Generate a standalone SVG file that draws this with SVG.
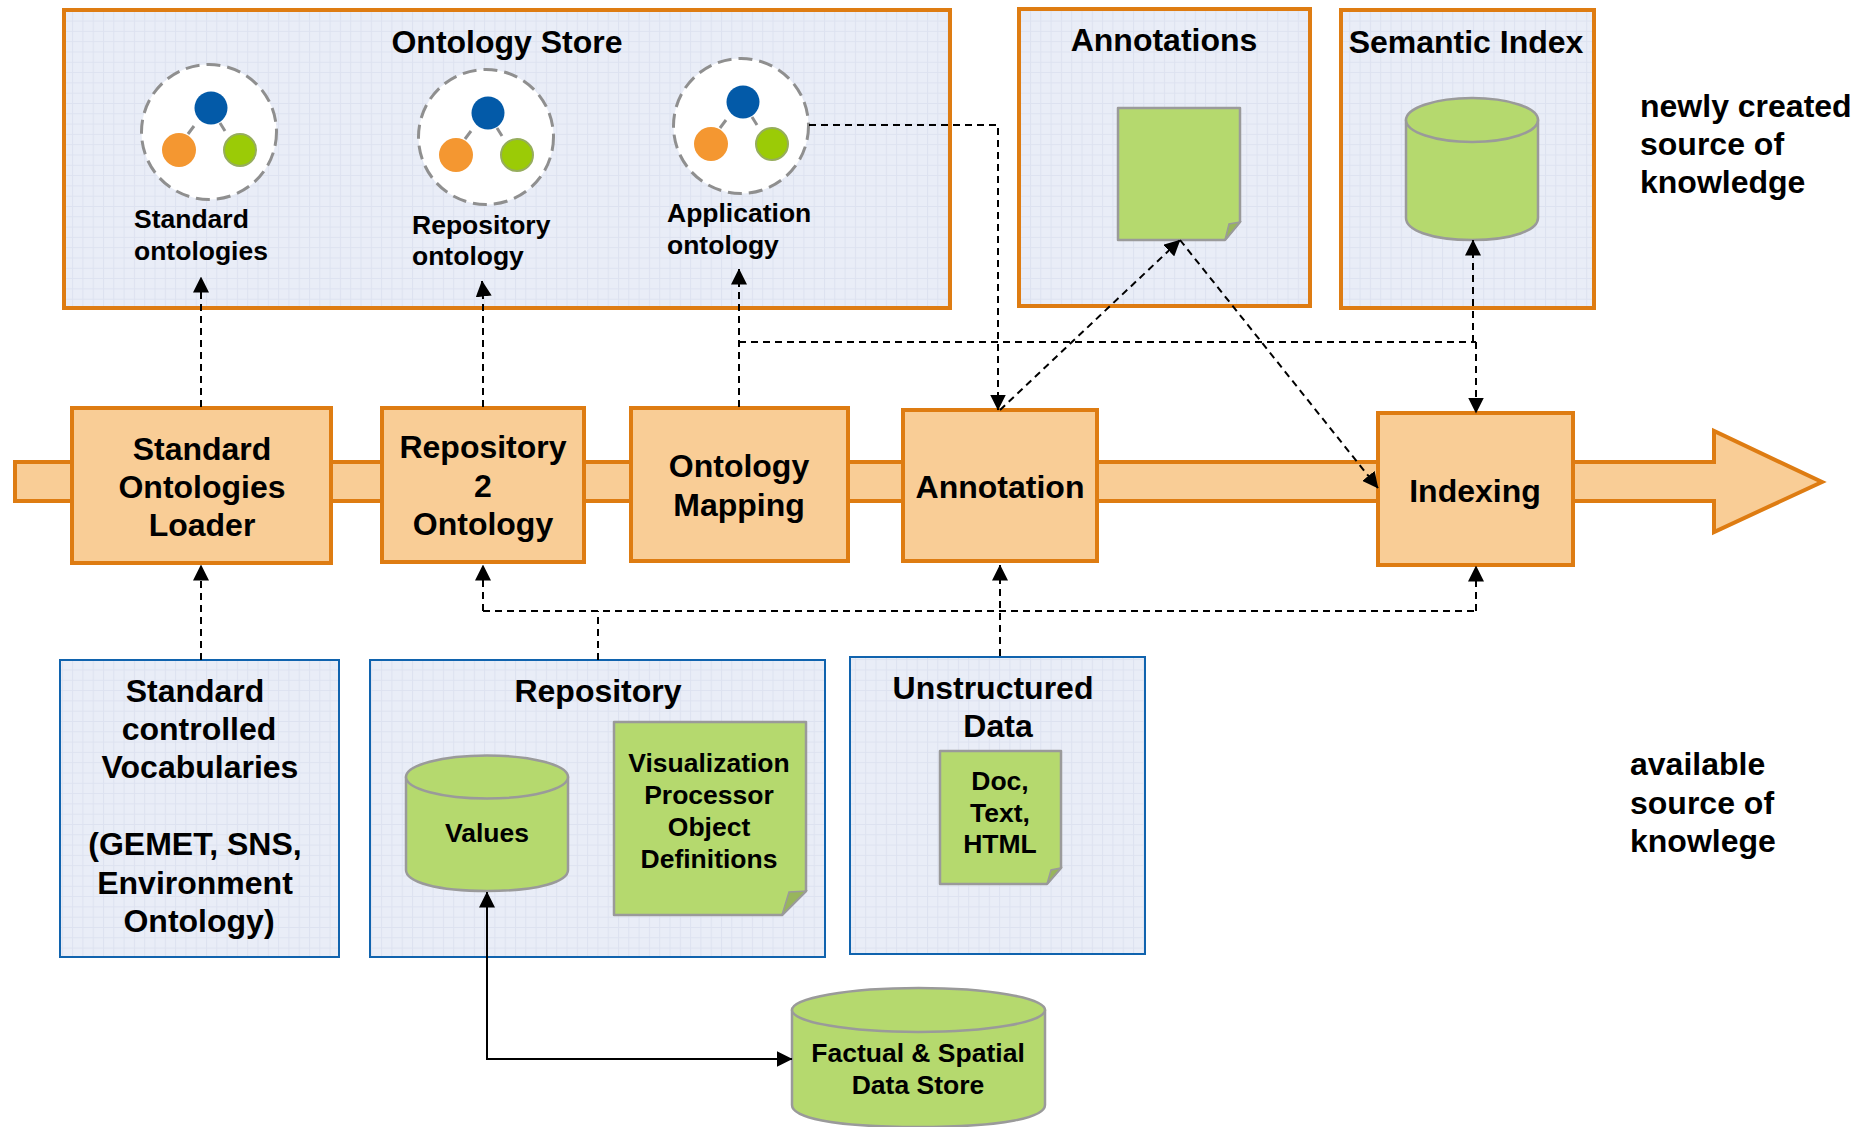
<svg xmlns="http://www.w3.org/2000/svg" width="1872" height="1127" viewBox="0 0 1872 1127">
<style>
text{font-family:"Liberation Sans",Arial,sans-serif;font-weight:bold;fill:#000;text-anchor:middle}
.s{text-anchor:start}
.f32{font-size:32px}.f27{font-size:26.5px}
.store{fill:url(#grid);stroke:#de7c12;stroke-width:4}
.src{fill:url(#grid);stroke:#1063ae;stroke-width:2}
.step{fill:#f9cd96;stroke:#de7c12;stroke-width:4}
.g{fill:#b5d96e;stroke:#9a9a9a;stroke-width:2.5;stroke-linejoin:round}
.fold{fill:#98b55c;stroke:#9a9a9a;stroke-width:1.5}
.ring{fill:#fff;stroke:#8f8f8f;stroke-width:3;stroke-dasharray:14 7}
.lnk{stroke:#8f8f8f;stroke-width:3}
.d{fill:none;stroke:#000;stroke-width:2;stroke-dasharray:7 5}
.l{fill:none;stroke:#000;stroke-width:2}
</style>
<defs>
<pattern id="grid" width="10.3" height="10.3" patternUnits="userSpaceOnUse">
<rect width="10.3" height="10.3" fill="#e9edf7"/>
<path d="M0 .5H10.3M.5 0V10.3" stroke="#dde2f0" stroke-width="1" fill="none"/>
</pattern>
<marker id="a" viewBox="0 0 16 16" refX="15.5" refY="8" markerWidth="16" markerHeight="16" markerUnits="userSpaceOnUse" orient="auto-start-reverse"><path d="M0 0L16 8L0 16Z" fill="#000"/></marker>
<g id="onto">
<circle class="ring" r="67.500"/>
<path class="lnk" d="M-15 -6L-21 2M11 -9L16 -1"/>
<circle cx="2" cy="-24" r="16.500" fill="#035aa8"/>
<circle cx="-30" cy="18" r="17" fill="#f49731"/>
<circle cx="31" cy="18" r="16" fill="#9bcb06" stroke="#96ad5c" stroke-width="2"/>
</g>
</defs>
<rect width="1872" height="1127" fill="#fff"/>
<g id="pipeline"><path class="step" d="M15 462H1714V431L1822 482L1714 532V501H15Z"/></g>
<g id="ontology-store">
<rect class="store" x="64" y="10" width="886" height="298"/>
<text class="f32" x="507" y="53">Ontology Store</text>
<use href="#onto" x="209" y="132"/>
<use href="#onto" x="486" y="137"/>
<use href="#onto" x="741" y="126"/>
<text class="f27 s" x="134" y="228">Standard</text><text class="f27 s" x="134" y="260">ontologies</text>
<text class="f27 s" x="412" y="234">Repository</text><text class="f27 s" x="412" y="265">ontology</text>
<text class="f27 s" x="667" y="222">Application</text><text class="f27 s" x="667" y="254">ontology</text>
</g>
<g id="annotations">
<rect class="store" x="1019" y="9" width="291" height="297"/>
<text class="f32" x="1164" y="51">Annotations</text>
<path class="g" d="M1118 108H1240V222L1225 240H1118Z"/>
<path class="fold" d="M1225 240L1229 224L1240 222Z"/>
</g>
<g id="semantic-index">
<rect class="store" x="1341" y="10" width="253" height="298"/>
<text class="f32" x="1466" y="53">Semantic Index</text>
<path class="g" d="M1406 120V218C1406 230 1431 240 1472 240S1538 230 1538 218V120Z"/>
<ellipse class="g" cx="1472" cy="120" rx="66" ry="22"/>
</g>
<g id="newly-created">
<text class="f32 s" x="1640" y="117">newly created</text>
<text class="f32 s" x="1640" y="155">source of</text>
<text class="f32 s" x="1640" y="193">knowledge</text>
</g>
<g id="available">
<text class="f32 s" x="1630" y="775">available</text>
<text class="f32 s" x="1630" y="814">source of</text>
<text class="f32 s" x="1630" y="852">knowlege</text>
</g>
<g id="standard-loader">
<rect class="step" x="72" y="408" width="259" height="155"/>
<text class="f32" x="202" y="460">Standard</text><text class="f32" x="202" y="498">Ontologies</text><text class="f32" x="202" y="536">Loader</text>
</g>
<g id="repository-2-ontology">
<rect class="step" x="382" y="408" width="202" height="154"/>
<text class="f32" x="483" y="458">Repository</text><text class="f32" x="483" y="497">2</text><text class="f32" x="483" y="535">Ontology</text>
</g>
<g id="ontology-mapping">
<rect class="step" x="631" y="408" width="217" height="153"/>
<text class="f32" x="739" y="477">Ontology</text><text class="f32" x="739" y="516">Mapping</text>
</g>
<g id="annotation">
<rect class="step" x="903" y="410" width="194" height="151"/>
<text class="f32" x="1000" y="498">Annotation</text>
</g>
<g id="indexing">
<rect class="step" x="1378" y="413" width="195" height="152"/>
<text class="f32" x="1475" y="502">Indexing</text>
</g>
<g id="standard-vocabularies">
<rect class="src" x="60" y="660" width="279" height="297"/>
<text class="f32" x="195" y="702">Standard</text><text class="f32" x="199" y="740">controlled</text><text class="f32" x="200" y="778">Vocabularies</text>
<text class="f32" x="195" y="855">(GEMET, SNS,</text><text class="f32" x="195" y="894">Environment</text><text class="f32" x="199" y="932">Ontology)</text>
</g>
<g id="repository">
<rect class="src" x="370" y="660" width="455" height="297"/>
<text class="f32" x="598" y="702">Repository</text>
<path class="g" d="M406 777V870C406 882 437 891 487 891S568 882 568 870V777Z"/>
<ellipse class="g" cx="487" cy="777" rx="81" ry="21.500"/>
<text class="f27" x="487" y="842">Values</text>
<path class="g" d="M614 722H806V891L782 915H614Z"/>
<path class="fold" d="M782 915L789 892L806 891Z"/>
<text class="f27" x="709" y="772">Visualization</text><text class="f27" x="709" y="804">Processor</text><text class="f27" x="709" y="836">Object</text><text class="f27" x="709" y="868">Definitions</text>
</g>
<g id="unstructured-data">
<rect class="src" x="850" y="657" width="295" height="297"/>
<text class="f32" x="993" y="699">Unstructured</text><text class="f32" x="998" y="737">Data</text>
<path class="g" d="M940 751H1061V868L1047 884H940Z"/>
<path class="fold" d="M1047 884L1051 870L1061 868Z"/>
<text class="f27" x="1000" y="790">Doc,</text><text class="f27" x="1000" y="822">Text,</text><text class="f27" x="1000" y="853">HTML</text>
</g>
<g id="factual-store">
<path class="g" d="M792 1010V1105C792 1117 830 1127 918 1127S1045 1117 1045 1105V1010Z"/>
<ellipse class="g" cx="918.500" cy="1010" rx="126.500" ry="22"/>
<text class="f27" x="918" y="1062">Factual &amp; Spatial</text><text class="f27" x="918" y="1094">Data Store</text>
</g>
<g id="connectors">
<path class="d" d="M201 407V277" marker-end="url(#a)"/>
<path class="d" d="M483 407V300Q483 290 482 281" marker-end="url(#a)"/>
<path class="d" d="M739 407V269" marker-end="url(#a)"/>
<path class="d" d="M739 342H1476"/>
<path class="d" d="M809 125H998V410" marker-end="url(#a)"/>
<path class="d" d="M1000 410L1180 240" marker-end="url(#a)"/>
<path class="d" d="M1180 240L1378 488" marker-end="url(#a)"/>
<path class="d" d="M1473 342V240" marker-end="url(#a)"/>
<path class="d" d="M1476 342V413" marker-end="url(#a)"/>
<path class="d" d="M201 660V565" marker-end="url(#a)"/>
<path class="d" d="M598 660V611"/>
<path class="d" d="M483 611H1476"/>
<path class="d" d="M483 611V565" marker-end="url(#a)"/>
<path class="d" d="M1476 611V566" marker-end="url(#a)"/>
<path class="d" d="M1000 656V565" marker-end="url(#a)"/>
<path class="l" d="M487 892V1059H792" marker-start="url(#a)" marker-end="url(#a)"/>
</g>
</svg>
